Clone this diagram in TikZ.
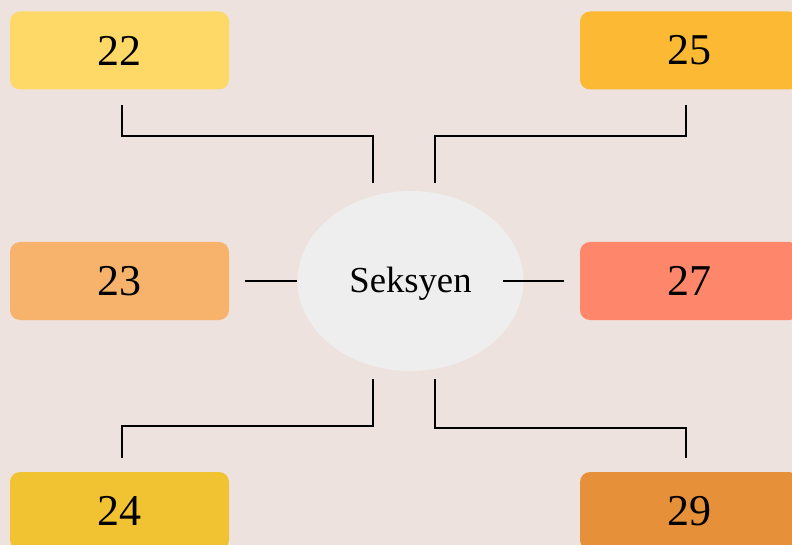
\documentclass[tikz,border=0pt]{standalone}
\usepackage{fontspec}
\usetikzlibrary{shapes.geometric}
\setmainfont{Liberation Serif}
\definecolor{bg}{RGB}{237,226,221}
\definecolor{ell}{RGB}{238,238,238}
\definecolor{cA}{RGB}{254,217,104}
\definecolor{cB}{RGB}{251,185,52}
\definecolor{cC}{RGB}{247,178,108}
\definecolor{cD}{RGB}{253,134,107}
\definecolor{cE}{RGB}{241,195,50}
\definecolor{cF}{RGB}{230,145,57}
\tikzset{
  box/.style={rounded corners=7.5pt, minimum width=164.25pt, minimum height=58.5pt, inner sep=0pt, font=\fontsize{33}{33}\selectfont},
  conn/.style={draw=black, line width=1.5pt}
}
\begin{document}
\begin{tikzpicture}[x=0.75pt,y=-0.75pt]
\useasboundingbox (0,0) rectangle (792,545);
\clip (0,0) rectangle (792,545);
\fill[bg] (0,0) rectangle (792,545);
\node[box, fill=cA] (b22) at (119.5,50.5) {22};
\node[box, fill=cB] (b25) at (689.5,50.5) {25};
\node[box, fill=cC] (b23) at (119.5,281) {23};
\node[box, fill=cD] (b27) at (689.5,281) {27};
\node[box, fill=cE] (b24) at (119.5,511) {24};
\node[box, fill=cF] (b29) at (689.5,511) {29};
\node[ellipse, fill=ell, minimum width=169.5pt, minimum height=135pt, inner sep=0pt] (sek) at (410.5,281) {};
\node[font=\fontsize{27.5}{27.5}\selectfont, inner sep=0pt, anchor=base] (sektext) at (410.5,292) {Seksyen};
% connector end points
\coordinate (s22) at (122,105);
\coordinate (m22) at (373,136);
\coordinate (e22) at (373,183);
\coordinate (s25) at (686,105);
\coordinate (m25) at (435,136);
\coordinate (e25) at (435,183);
\coordinate (s24) at (122,458);
\coordinate (m24) at (373,426);
\coordinate (e24) at (373,379);
\coordinate (s29) at (686,458);
\coordinate (m29) at (435,428);
\coordinate (e29) at (435,379);
\coordinate (s23) at (245,281);
\coordinate (e23) at (297,281);
\coordinate (s27) at (564,281);
\coordinate (e27) at (503,281);
\draw[conn] (s22) |- (m22) -- (e22);
\draw[conn] (s25) |- (m25) -- (e25);
\draw[conn] (s24) |- (m24) -- (e24);
\draw[conn] (s29) |- (m29) -- (e29);
\draw[conn] (s23) -- (e23);
\draw[conn] (s27) -- (e27);
\end{tikzpicture}
\end{document}
